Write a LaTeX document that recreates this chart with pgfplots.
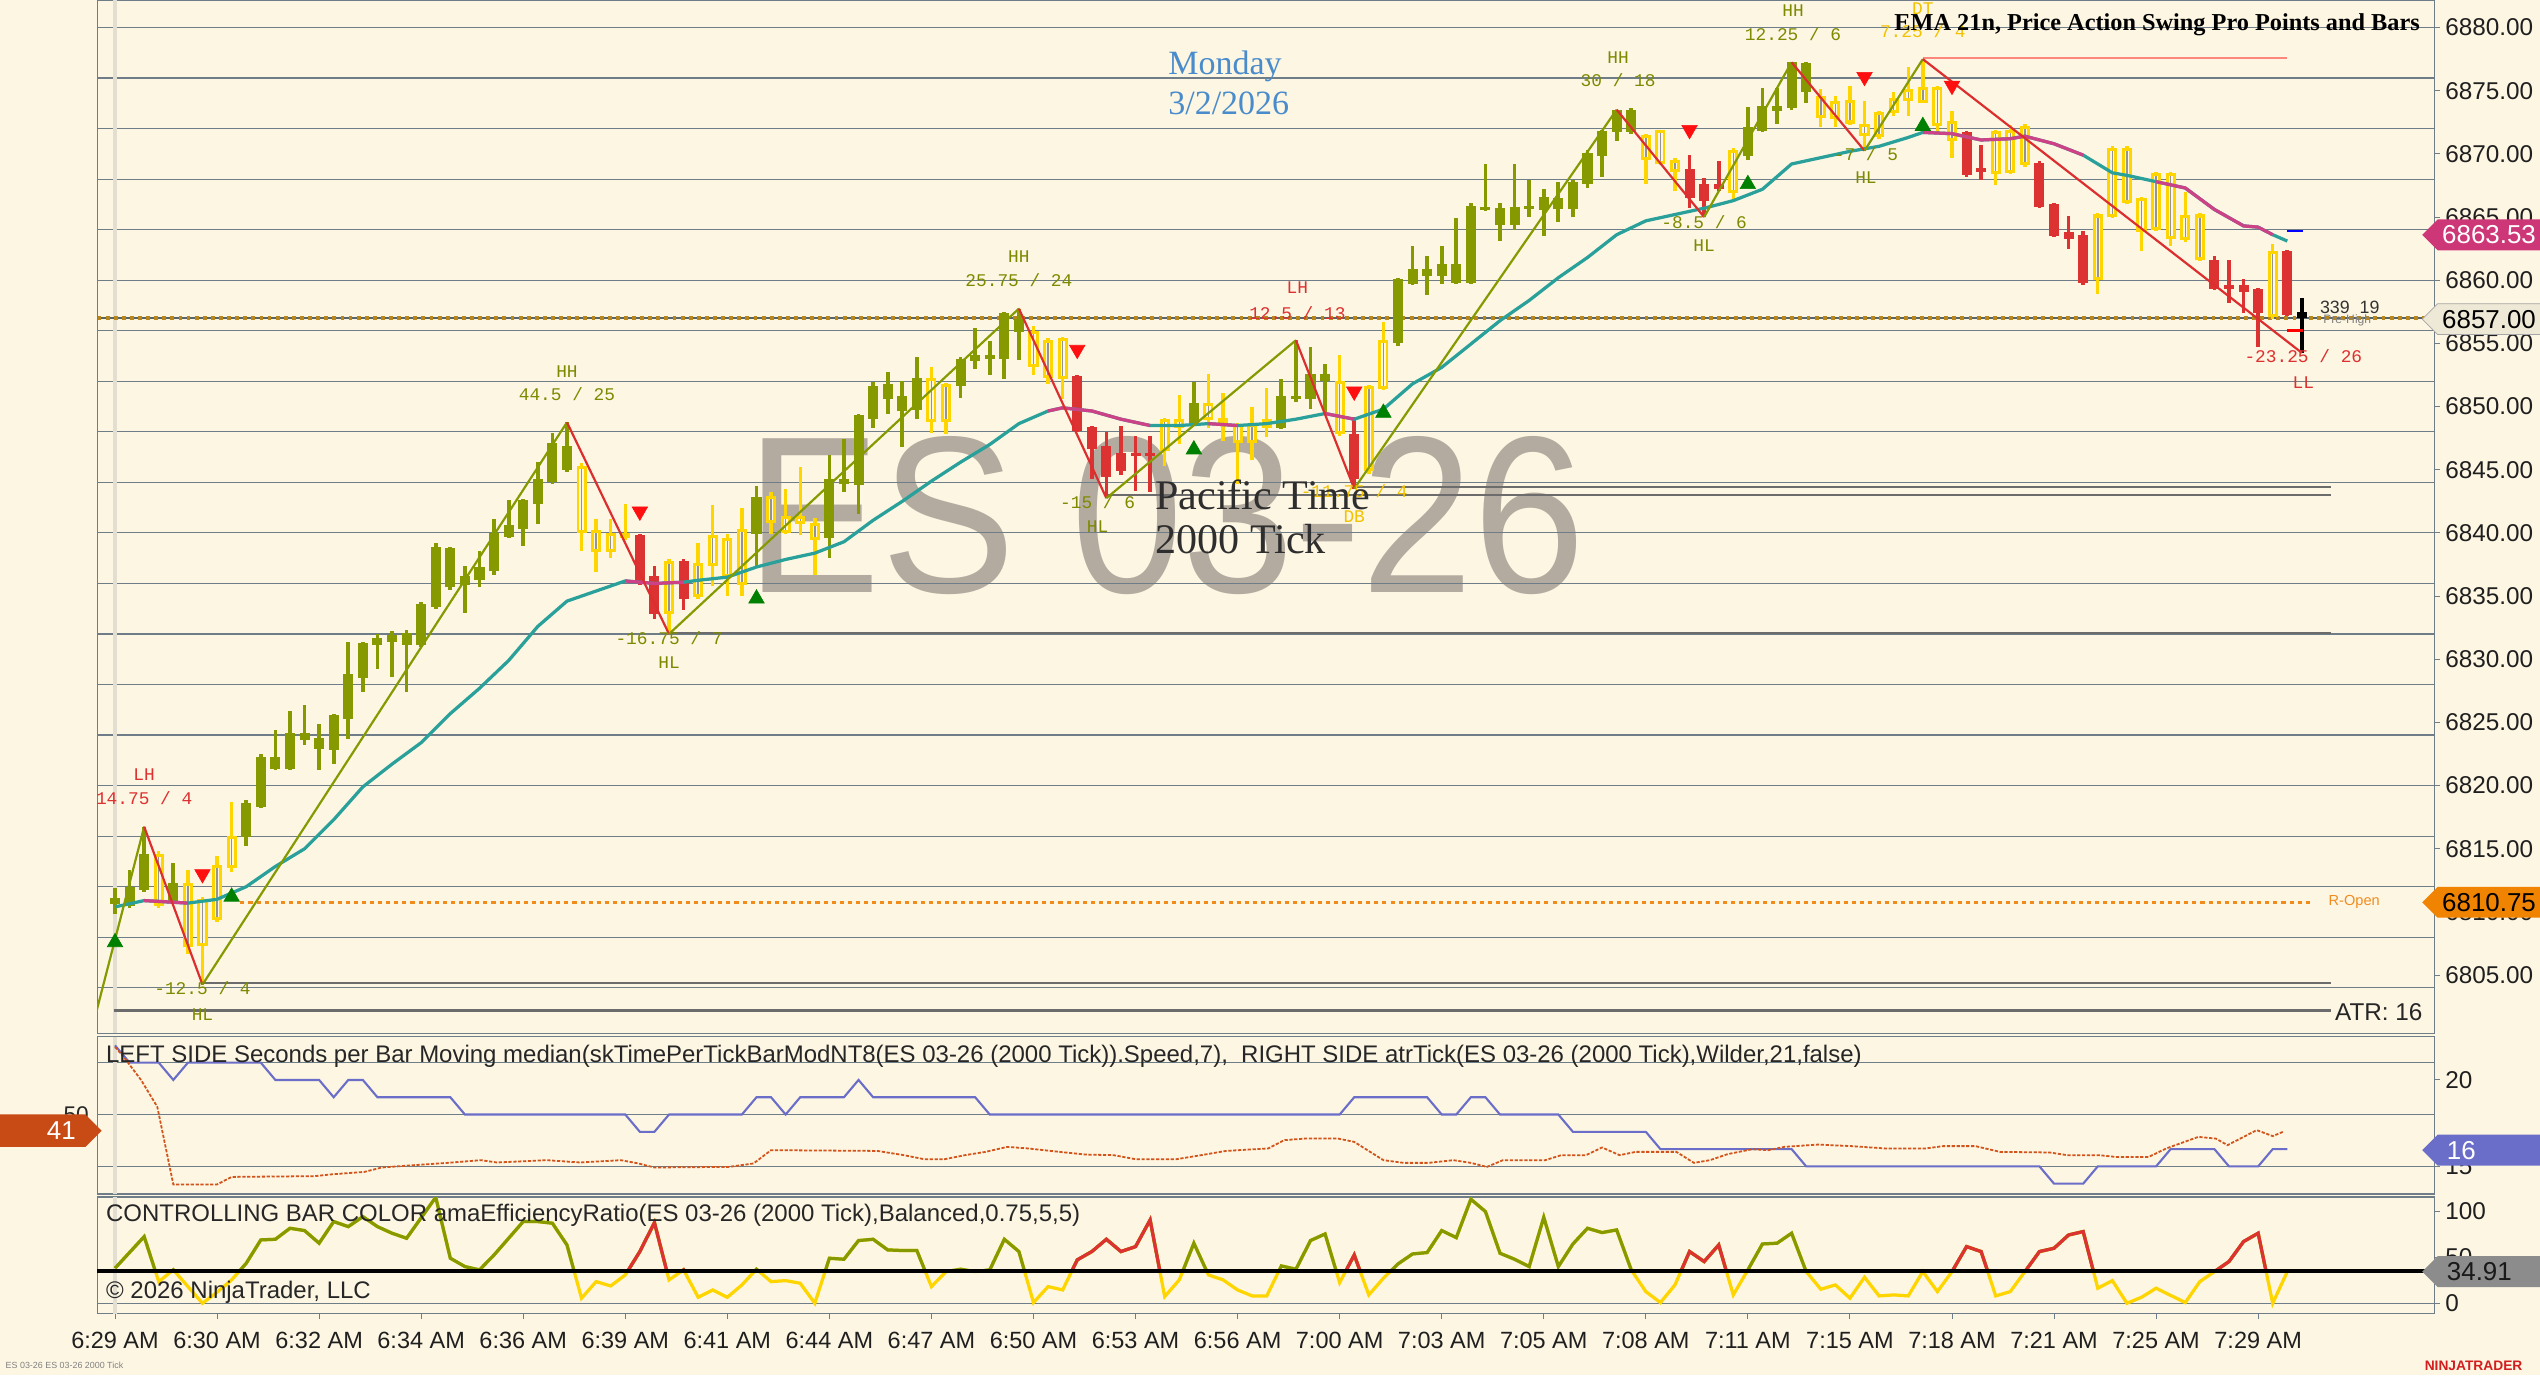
\documentclass[border=0pt]{standalone}
\usepackage{fontspec}
\setmainfont{Liberation Sans}
\newfontfamily\serifnt{Liberation Serif}
\newfontfamily\monont{Liberation Mono}
\usepackage{pgfplots}
\usepackage{pgfplotstable}
\pgfplotsset{compat=1.18}
\usetikzlibrary{shapes.symbols}

\definecolor{bg}{HTML}{FDF6E3}
\definecolor{gridc}{HTML}{6E7D87}
\definecolor{hlinec}{HTML}{6C6C6C}
\definecolor{upc}{HTML}{869A00}
\definecolor{yelc}{HTML}{FFD500}
\definecolor{dnc}{HTML}{DC3232}
\definecolor{emac}{HTML}{2AA09B}
\definecolor{magc}{HTML}{CD4187}
\definecolor{swup}{HTML}{849A00}
\definecolor{swdn}{HTML}{DC2E2E}
\definecolor{tolive}{HTML}{7D8A00}
\definecolor{tred}{HTML}{DD3030}
\definecolor{tgold}{HTML}{F2C200}
\definecolor{wmark}{HTML}{B3AB9F}
\definecolor{prehi}{HTML}{B98719}
\definecolor{ropen}{HTML}{F08C1E}
\definecolor{atrc}{HTML}{6B6EC8}
\definecolor{secc}{HTML}{D2541A}
\definecolor{trig}{HTML}{008000}
\definecolor{trir}{HTML}{FF1010}
\definecolor{bandc}{HTML}{E2DED2}

% OHLC per bar, split by bar colour
\pgfplotstableread{
i o h l c
0 6810.6 6811.9 6809.8 6811.1
1 6810.5 6813.3 6810.3 6812.0
2 6811.7 6816.75 6811.6 6814.6
4 6810.9 6813.9 6810.8 6812.3
9 6815.9 6818.9 6815.2 6818.6
10 6818.3 6822.5 6818.2 6822.3
11 6821.3 6824.4 6821.2 6822.3
12 6821.3 6825.9 6821.2 6824.2
13 6823.6 6826.4 6823.2 6824.2
14 6822.9 6824.9 6821.2 6823.8
15 6822.8 6825.7 6821.7 6825.6
16 6825.3 6831.4 6823.7 6828.8
17 6828.5 6831.4 6827.4 6831.3
18 6831.1 6832.0 6829.2 6831.7
19 6831.4 6832.2 6828.6 6831.9
20 6831.1 6832.3 6827.4 6832.1
21 6831.1 6834.5 6831.0 6834.4
22 6834.1 6839.2 6834.0 6838.9
23 6835.7 6838.9 6835.5 6838.8
24 6835.9 6837.4 6833.7 6836.6
25 6836.3 6838.6 6835.7 6837.3
26 6837.0 6841.1 6836.7 6840.0
27 6839.7 6842.6 6839.6 6840.6
28 6840.3 6842.7 6839.0 6842.6
29 6842.3 6845.6 6840.7 6844.3
30 6844.0 6847.9 6843.9 6847.1
31 6845.0 6848.75 6844.8 6846.9
44 6839.9 6843.7 6837.4 6842.85
49 6839.6 6846.2 6838.0 6844.3
50 6843.9 6847.4 6843.2 6844.3
51 6843.8 6849.4 6841.5 6849.3
52 6849.0 6851.95 6848.3 6851.6
53 6850.6 6852.7 6849.4 6851.8
54 6849.65 6852.0 6846.8 6850.8
55 6849.7 6853.9 6849.0 6852.3
58 6851.6 6853.9 6850.7 6853.8
59 6853.6 6856.2 6853.0 6854.1
60 6853.8 6855.2 6852.5 6854.1
61 6853.8 6857.5 6852.2 6857.4
62 6855.9 6857.75 6853.7 6856.9
74 6848.7 6851.95 6848.6 6850.3
80 6848.3 6852.2 6848.2 6850.8
81 6850.6 6855.25 6850.4 6850.8
82 6850.6 6854.7 6849.8 6852.6
83 6852.0 6853.4 6849.5 6852.6
88 6855.0 6860.2 6854.8 6860.1
89 6859.7 6862.7 6859.6 6860.9
90 6860.3 6861.9 6858.8 6860.9
91 6860.3 6862.7 6859.7 6861.3
92 6859.8 6864.9 6859.7 6861.3
93 6859.8 6866.1 6859.7 6865.9
94 6865.6 6869.2 6865.5 6865.8
95 6864.4 6866.1 6863.1 6865.7
96 6864.4 6869.2 6864.0 6865.8
97 6865.6 6867.9 6865.0 6865.9
98 6865.6 6867.2 6863.5 6866.6
99 6865.6 6867.8 6864.6 6866.5
100 6865.6 6867.9 6865.0 6867.8
101 6867.6 6870.3 6867.3 6870.1
102 6869.8 6871.9 6868.2 6871.8
103 6871.7 6873.5 6871.0 6873.5
104 6871.7 6873.6 6871.6 6873.5
112 6869.8 6873.7 6869.5 6872.1
113 6871.8 6875.2 6871.7 6873.8
114 6873.4 6875.2 6872.4 6873.8
115 6873.6 6877.25 6873.5 6877.25
116 6874.9 6877.3 6874.0 6877.2
}\upbars

\pgfplotstableread{
i o h l c
3 6814.6 6814.8 6810.3 6810.5
5 6812.3 6813.3 6806.7 6807.2
6 6807.3 6811.2 6804.25 6811.0
7 6809.4 6814.4 6809.2 6813.7
8 6813.5 6818.7 6813.2 6816.0
32 6845.3 6845.5 6838.6 6840.0
33 6840.2 6841.1 6836.9 6838.5
34 6838.5 6841.1 6838.0 6840.0
35 6839.6 6842.3 6839.4 6840.0
38 6833.6 6837.9 6832.0 6837.8
40 6834.9 6839.2 6834.75 6837.6
41 6837.4 6842.2 6835.8 6839.8
42 6839.6 6839.9 6835.0 6836.5
43 6835.9 6842.0 6835.0 6840.3
45 6842.9 6843.2 6839.9 6840.8
46 6841.3 6843.5 6839.9 6840.0
47 6841.3 6845.2 6839.8 6840.7
48 6840.8 6841.2 6836.7 6839.4
56 6852.3 6853.1 6847.9 6848.8
57 6848.8 6851.9 6847.8 6851.8
63 6856.0 6856.4 6852.5 6853.1
64 6855.3 6855.4 6851.8 6852.3
65 6852.2 6855.5 6850.6 6855.4
72 6846.5 6849.1 6845.3 6849.0
73 6848.3 6850.9 6847.0 6849.0
75 6848.9 6852.6 6848.3 6850.3
76 6849.1 6851.1 6847.3 6848.65
77 6848.65 6848.7 6843.85 6847.1
78 6847.1 6850.0 6845.75 6848.65
79 6848.3 6851.45 6847.6 6849.0
84 6852.0 6854.1 6847.7 6847.8
86 6844.9 6851.7 6844.7 6851.6
87 6851.4 6856.7 6851.3 6855.3
105 6871.5 6871.6 6867.6 6869.55
106 6871.9 6871.9 6869.1 6869.2
107 6869.55 6869.7 6867.1 6868.6
111 6866.9 6870.5 6866.3 6870.3
117 6874.6 6875.1 6872.1 6872.8
118 6874.2 6874.6 6872.1 6872.8
119 6872.4 6875.4 6872.3 6874.3
120 6872.4 6874.2 6870.25 6871.4
121 6871.3 6873.4 6871.2 6873.3
122 6873.2 6874.9 6873.0 6874.4
123 6874.2 6876.9 6873.0 6875.1
124 6874.0 6877.5 6874.0 6875.3
125 6875.3 6875.4 6871.6 6872.2
126 6872.6 6873.4 6869.7 6871.0
129 6868.4 6871.9 6867.5 6871.8
130 6871.9 6872.3 6868.4 6868.5
131 6869.1 6872.4 6869.0 6872.2
136 6860.0 6865.3 6858.9 6865.2
137 6865.0 6870.6 6864.9 6870.5
138 6870.5 6870.6 6866.0 6866.1
139 6866.5 6866.6 6862.3 6863.85
140 6864.0 6868.6 6863.9 6868.5
141 6868.5 6868.6 6862.7 6863.3
142 6863.2 6867.0 6863.0 6865.2
143 6865.2 6865.3 6861.5 6861.6
148 6857.1 6862.9 6856.9 6862.3
}\yelbars

\pgfplotstableread{
i o h l c
36 6839.8 6839.9 6835.9 6836.0
37 6836.6 6837.4 6833.2 6833.6
39 6837.8 6837.9 6833.9 6834.8
66 6852.4 6852.5 6848.0 6848.1
67 6848.4 6848.5 6844.25 6846.6
68 6846.9 6848.0 6842.75 6844.4
69 6846.3 6848.5 6844.6 6844.9
70 6846.3 6847.7 6843.3 6846.1
71 6846.3 6847.7 6843.2 6846.1
85 6847.8 6849.2 6843.5 6844.3
108 6868.8 6869.9 6865.7 6866.5
109 6867.6 6868.1 6865.0 6866.3
110 6867.6 6869.4 6867.1 6867.2
127 6871.7 6871.8 6868.2 6868.3
128 6868.9 6870.7 6867.9 6868.6
132 6869.3 6869.4 6865.7 6865.8
133 6866.0 6866.1 6863.4 6863.5
134 6863.8 6865.1 6862.5 6863.3
135 6863.6 6863.9 6859.6 6859.8
144 6861.6 6861.9 6859.2 6859.3
145 6859.6 6861.6 6858.2 6859.3
146 6859.6 6860.1 6857.4 6859.1
147 6859.3 6859.4 6854.75 6857.4
149 6862.3 6862.4 6857.2 6857.25
}\dnbars

\pgfplotstableread{
i o h l c
150 6857.5 6858.6 6854.25 6857.0
}\lastbar

\pgfplotstableread{
i v
0 6810.4
2 6810.9
5 6810.7
7 6811.0
9 6812.0
11 6813.6
13 6815.0
15 6817.3
17 6819.9
19 6821.7
21 6823.4
23 6825.7
25 6827.7
27 6829.9
29 6832.6
31 6834.6
33 6835.4
35 6836.2
37 6836.0
39 6836.1
40 6836.25
42 6836.5
44 6837.3
46 6837.9
48 6838.4
50 6839.3
52 6841.0
54 6842.5
56 6844.1
58 6845.6
60 6847.0
62 6848.65
64 6849.65
65 6849.9
67 6849.65
69 6849.0
71 6848.5
73 6848.5
75 6848.65
77 6848.5
79 6848.65
81 6849.0
83 6849.45
85 6849.0
87 6849.8
89 6851.8
91 6853.1
93 6854.95
95 6856.8
97 6858.4
99 6860.2
101 6861.8
103 6863.6
105 6864.7
107 6865.2
109 6865.7
111 6866.3
113 6867.2
115 6869.2
117 6869.7
119 6870.2
121 6870.6
123 6871.3
124 6871.7
126 6871.6
128 6871.1
130 6871.2
131 6871.4
133 6870.8
135 6869.9
137 6868.5
138 6868.3
140 6867.8
142 6867.3
144 6865.6
146 6864.3
147 6864.2
148 6863.6
149 6863.1
}\ema

\pgfplotstableread{
i v
0 38.2
2 72.7
3 23.6
4 36.4
6 0
7 12
8 25.5
9 43.6
10 69.1
11 69.8
12 81.8
13 79.3
14 65.5
15 89.1
16 83.6
17 94.5
18 83.6
19 76.4
20 70.9
22 115.6
23 49.1
24 40
25 36.4
26 52.7
28 89.1
29 89.1
30 87.3
31 63.6
32 5.5
33 23.6
34 18.9
35 30.9
36 56.4
37 88
38 25.5
39 36.4
40 6.5
41 14.5
42 6.5
43 20
44 37.1
45 23.6
46 24.7
47 21.8
48 0
49 49.1
50 48
51 68.4
52 69.8
53 58.2
54 57.5
55 57.5
56 18.2
57 34.5
58 37.1
59 34.5
60 36.4
61 69.8
62 56.4
63 0.7
64 18.2
65 14.5
66 47.3
67 56.4
68 69.8
69 56.4
70 61.8
71 90.9
72 7.3
73 25.5
74 65.5
75 30.9
76 25.5
77 14.5
78 8
79 8
80 40.7
81 37.1
82 68.4
83 75.6
84 22.5
85 52.7
86 9.1
87 27.3
88 42.9
89 53.8
90 55.3
91 79.3
92 71.6
93 113.5
94 100
95 54.5
96 48
97 40
98 93.8
99 40
100 64.7
101 81.8
102 77.1
103 80
104 36.4
105 12.7
106 0.7
107 20
108 56.4
109 45.5
110 63.6
111 9.1
112 36.4
113 64.7
114 65.5
115 76.4
116 34.5
117 15.3
118 20
119 5.5
120 28.4
121 8
122 9.1
123 8
124 34.5
125 12.7
126 34.5
127 61.8
128 56.4
129 8
130 12.7
131 34.5
132 56.4
133 60
134 74.5
135 78.2
136 16.4
137 24.7
138 0
139 6.5
140 16.4
142 0.7
143 23.6
144 34.5
145 45.5
146 67.3
147 76.4
148 0
149 34.5
}\effratio

\newcommand\wicks[3]{\addplot[draw=none, mark=none, error bars/.cd, y dir=both, y explicit, error mark=none, error bar style={line width=#3, draw=#2}] table[x=i, y expr={0.5*(\thisrow{h}+\thisrow{l})}, y error expr={0.5*(\thisrow{h}-\thisrow{l})}] {#1};}
\newcommand\bodies[5]{\addplot[draw=none, mark=none, error bars/.cd, y dir=both, y explicit, error mark=none, error bar style={line width=#3, draw=#2}] table[x=i, y expr={0.5*(\thisrow{o}+\thisrow{c})}, y error expr={max(0.5*abs(\thisrow{o}-\thisrow{c})-#4,#5)}] {#1};}

\pgfplotsset{
  panel/.style={scale only axis, width=1443pt, xmin=-1.222, xmax=159.11,
    axis line style={draw=gridc, line width=0.8pt}, scaled y ticks=false,
    ytick pos=right, yticklabel pos=right, tick align=outside,
    major tick length=3pt, minor tick length=0pt,
    tick style={draw=gridc, line width=0.6pt},
    yticklabel style={font=\fontsize{15}{15}\selectfont, text=black!88,
      /pgf/number format/assume math mode=true},
    minor grid style={draw=gridc, line width=0.7pt}},
}

\begin{document}
\begin{tikzpicture}[x=1pt,y=1pt]
\useasboundingbox (0,0) rectangle (1568,849);
\fill[bg] (0,0) rectangle (1568,849);
\node[inner sep=0, text=wmark, xscale=0.9, font=\fontsize{138}{138}\selectfont] at (720,531) {ES 03-26};

% ---------------- price panel ----------------
\begin{axis}[panel, at={(60pt,211pt)}, anchor=south west, height=638pt,
  ymin=6800.38, ymax=6882.18, xtick=\empty,
  ytick={6805,6810,...,6880}, minor ytick={6804,6808,...,6880}, yminorgrids,
  yticklabel style={/pgf/number format/.cd, fixed, fixed zerofill, precision=2, 1000 sep={}}]
\addplot[bandc, line width=3pt] coordinates {(0,6800.38) (0,6882.18)};
% levels
\addplot[gridc!80!black, line width=1pt] coordinates {(-1.2,6857) (159.1,6857)};
\addplot[prehi, line width=2.4pt, dash pattern=on 2.4pt off 2.6pt] coordinates {(-1.2,6857) (159.1,6857)};
\addplot[ropen, line width=2pt, dash pattern=on 2.5pt off 2.5pt] coordinates {(8.6,6810.75) (150.8,6810.75)};
\addplot[hlinec, line width=1.3pt] coordinates {(-0.1,6802.2) (152,6802.2)};
\addplot[hlinec, line width=1.3pt] coordinates {(6,6804.4) (152,6804.4)};
\addplot[hlinec, line width=1.3pt] coordinates {(38,6832.1) (152,6832.1)};
\addplot[hlinec, line width=1.3pt] coordinates {(68,6843.0) (152,6843.0)};
\addplot[hlinec, line width=1.3pt] coordinates {(85,6843.6) (152,6843.6)};
\addplot[red!45!bg, line width=1.2pt] coordinates {(124,6877.6) (149,6877.6)};
% candles
\wicks{\upbars}{upc}{2.3pt}
\bodies{\upbars}{upc}{6.2pt}{0}{0.13}
\wicks{\dnbars}{dnc}{2.3pt}
\bodies{\dnbars}{dnc}{6.2pt}{0}{0.13}
\wicks{\yelbars}{yelc}{2.1pt}
\bodies{\yelbars}{yelc}{6.2pt}{0}{0.13}
\bodies{\yelbars}{bg}{2.6pt}{0.24}{0}
\bodies{\yelbars}{gray!85}{0.9pt}{0.24}{0}
\wicks{\lastbar}{black}{2.2pt}
\bodies{\lastbar}{black}{6.2pt}{0}{0.13}
% EMA 21
\addplot[emac, line width=2pt] table[x=i, y=v] {\ema};
\addplot[magc, line width=2pt, restrict x to domain=2:5] table[x=i, y=v] {\ema};
\addplot[magc, line width=2pt, restrict x to domain=35:39] table[x=i, y=v] {\ema};
\addplot[magc, line width=2pt, restrict x to domain=64:71] table[x=i, y=v] {\ema};
\addplot[magc, line width=2pt, restrict x to domain=75:77] table[x=i, y=v] {\ema};
\addplot[magc, line width=2pt, restrict x to domain=83:85] table[x=i, y=v] {\ema};
\addplot[magc, line width=2pt, restrict x to domain=124:135] table[x=i, y=v] {\ema};
\addplot[magc, line width=2pt, restrict x to domain=140:148] table[x=i, y=v] {\ema};
% swings
\addplot[swup, line width=1.35pt] coordinates {(-1.3,6802.0) (2,6816.75)};
\addplot[swdn, line width=1.35pt] coordinates {(2,6816.75) (6,6804.25)};
\addplot[swup, line width=1.35pt] coordinates {(6,6804.25) (31,6848.75)};
\addplot[swdn, line width=1.35pt] coordinates {(31,6848.75) (38,6832.0)};
\addplot[swup, line width=1.35pt] coordinates {(38,6832.0) (62,6857.75)};
\addplot[swdn, line width=1.35pt] coordinates {(62,6857.75) (68,6842.75)};
\addplot[swup, line width=1.35pt] coordinates {(68,6842.75) (81,6855.25)};
\addplot[swdn, line width=1.35pt] coordinates {(81,6855.25) (85,6843.5)};
\addplot[swup, line width=1.35pt] coordinates {(85,6843.5) (103,6873.5)};
\addplot[swdn, line width=1.35pt] coordinates {(103,6873.5) (109,6865.0)};
\addplot[swup, line width=1.35pt] coordinates {(109,6865.0) (115,6877.25)};
\addplot[swdn, line width=1.35pt] coordinates {(115,6877.25) (120,6870.25)};
\addplot[swup, line width=1.35pt] coordinates {(120,6870.25) (124,6877.5)};
\addplot[swdn, line width=1.35pt] coordinates {(124,6877.5) (150,6854.25)};
\addplot[blue, line width=1.6pt] coordinates {(149,6863.9) (150.1,6863.9)};
\addplot[red, line width=1.6pt] coordinates {(149,6856.0) (150.1,6856.0)};
% signal triangles
\addplot[only marks, mark=triangle*, mark size=5.5pt, color=trig] coordinates {(0,6807.6) (8,6811.2) (44,6834.8) (74,6846.6) (87,6849.5) (112,6867.6) (124,6872.2)};
\addplot[only marks, mark=triangle*, mark size=5.5pt, color=trir, mark options={rotate=180}] coordinates {(6,6813.0) (36,6841.7) (66,6854.5) (85,6851.2) (108,6871.9) (120,6876.1) (126,6875.4)};
% swing labels
\begin{scope}[every node/.style={font=\monont\fontsize{11}{11}\selectfont, inner sep=0}]
\node[text=tred] at (axis cs:2,6820.9) {LH};
\node[text=tred] at (axis cs:2,6818.97) {14.75 / 4};
\node[text=tolive] at (axis cs:6,6804.0) {-12.5 / 4};
\node[text=tolive] at (axis cs:6,6801.9) {HL};
\node[text=tolive] at (axis cs:31,6852.8) {HH};
\node[text=tolive] at (axis cs:31,6851.0) {44.5 / 25};
\node[text=tolive] at (axis cs:38,6831.7) {-16.75 / 7};
\node[text=tolive] at (axis cs:38,6829.7) {HL};
\node[text=tolive] at (axis cs:62,6861.9) {HH};
\node[text=tolive] at (axis cs:62,6860.0) {25.75 / 24};
\node[text=tred] at (axis cs:81.1,6859.4) {LH};
\node[text=tred] at (axis cs:81.1,6857.4) {12.5 / 13};
\node[text=tolive] at (axis cs:67.4,6842.4) {-15 / 6};
\node[text=tolive] at (axis cs:67.4,6840.5) {HL};
\node[text=tgold] at (axis cs:85,6843.3) {-11.75 / 4};
\node[text=tgold] at (axis cs:85,6841.3) {DB};
\node[text=tolive] at (axis cs:103.1,6877.6) {HH};
\node[text=tolive] at (axis cs:103.1,6875.8) {30 / 18};
\node[text=tolive] at (axis cs:109,6864.6) {-8.5 / 6};
\node[text=tolive] at (axis cs:109,6862.7) {HL};
\node[text=tolive] at (axis cs:115.1,6881.3) {HH};
\node[text=tolive] at (axis cs:115.1,6879.5) {12.25 / 6};
\node[text=tolive] at (axis cs:120.1,6870.0) {-7 / 5};
\node[text=tolive] at (axis cs:120.1,6868.1) {HL};
\node[text=tgold] at (axis cs:124,6881.5) {DT};
\node[text=tgold] at (axis cs:124,6879.7) {7.25 / 4};
\node[text=tred] at (axis cs:150.1,6854.0) {-23.25 / 26};
\node[text=tred] at (axis cs:150.1,6851.9) {LL};
\end{scope}
\end{axis}

% ---------------- seconds per bar / ATR panel ----------------
\begin{axis}[panel, at={(60pt,112pt)}, anchor=south west, height=97pt,
  ymin=13.41, ymax=22.5, xtick=\empty, ytick={15,20},
  minor ytick={15,18,21}, yminorgrids]
\addplot[bandc, line width=3pt] coordinates {(0,13.41) (0,22.5)};
\addplot[atrc, line width=1.3pt] coordinates {(0,22)(1,21)(3,21)(4,20)(5,21)(10,21)(11,20)(14,20)(15,19)(16,20)(17,20)(18,19)(23,19)(24,18)(35,18)(36,17)(37,17)(38,18)(43,18)(44,19)(45,19)(46,18)(47,19)(50,19)(51,20)(52,19)(59,19)(60,18)(84,18)(85,19)(90,19)(91,18)(92,18)(93,19)(94,19)(95,18)(99,18)(100,17)(105,17)(106,16)(115,16)(116,15)(132,15)(133,14)(135,14)(136,15)(140,15)(141,16)(144,16)(145,15)(147,15)(148,16)(149,16)};
\end{axis}
\begin{axis}[scale only axis, width=1443pt, height=97pt, at={(60pt,112pt)}, anchor=south west,
  xmin=-1.222, xmax=159.11, ymin=8.8, ymax=90.4, hide axis]
\addplot[secc, line width=1.1pt, dash pattern=on 2pt off 1pt] coordinates {(0,85.1)(0.6,79.9)(1.8,67.8)(2.9,54.0)(4,13.7)(7,13.7)(8,17.6)(13.7,18.0)(14.8,18.9)(17.1,20.2)(18.3,22.5)(20.5,23.7)(22.8,24.9)(25.1,26.3)(26.2,25.1)(29.6,26.3)(31.9,25.1)(34.7,26.3)(35.9,24.6)(37,22.5)(42.1,22.8)(43.8,24.6)(45,31.5)(52.3,31.1)(54.1,28.9)(55.5,26.8)(56.9,26.8)(58.3,28.9)(59.7,30.6)(61.2,33.2)(62.6,32.4)(64.8,30.6)(66.6,29.2)(68.5,28.9)(70,26.8)(72.8,26.8)(74.5,28.9)(76.2,31.1)(79.1,32.4)(80.2,36.7)(81.6,37.5)(83.9,37.5)(85,35.8)(87,26.3)(88.4,24.9)(90.1,24.9)(91.8,26.3)(93,24.9)(94.1,22.8)(95.2,26.3)(98.1,26.3)(99.2,28.9)(100.9,28.9)(102,32.9)(103.2,28.9)(104.3,30.6)(107.1,30.6)(108.3,24.9)(109.4,26.3)(110.6,29.4)(112.3,32.0)(113.4,31.5)(114.5,33.2)(116.8,34.4)(119.1,33.6)(121.4,32.4)(124.2,32.4)(125.4,33.6)(127.6,33.6)(129.3,30.6)(132.7,30.3)(133.9,28.9)(136.1,28.9)(137.2,28.0)(139.5,28.0)(140.7,32.4)(142.9,38.4)(144.1,37.5)(144.9,34.1)(146.9,41.9)(148,38.8)(148.7,41)};
\end{axis}

% ---------------- efficiency ratio panel ----------------
\begin{axis}[panel, at={(60pt,38pt)}, anchor=south west, height=72pt,
  ymin=-11.45, ymax=115.8, ytick={0,50,100}, minor ytick={0}, yminorgrids,
  xtick={0,7,...,147}, xtick pos=bottom,
  xticklabels={6:29 AM,6:30 AM,6:32 AM,6:34 AM,6:36 AM,6:39 AM,6:41 AM,6:44 AM,6:47 AM,6:50 AM,6:53 AM,6:56 AM,7:00 AM,7:03 AM,7:05 AM,7:08 AM,7:11 AM,7:15 AM,7:18 AM,7:21 AM,7:25 AM,7:29 AM},
  xticklabel style={font=\fontsize{14.5}{14.5}\selectfont, text=black!88, yshift=-5pt}]
\addplot[bandc, line width=3pt] coordinates {(0,-11.45) (0,115.8)};
\addplot[yelc, line width=2pt] table[x=i, y=v] {\effratio};
\end{axis}
\begin{axis}[scale only axis, width=1443pt, height=45.77pt, at={(60pt,64.23pt)}, anchor=south west,
  xmin=-1.222, xmax=159.11, ymin=34.91, ymax=115.8, hide axis]
\addplot[upc, line width=2pt] table[x=i, y=v] {\effratio};
\addplot[dnc, line width=2pt, restrict x to domain=35:40] table[x=i, y=v] {\effratio};
\addplot[dnc, line width=2pt, restrict x to domain=65:72] table[x=i, y=v] {\effratio};
\addplot[dnc, line width=2pt, restrict x to domain=84:86] table[x=i, y=v] {\effratio};
\addplot[dnc, line width=2pt, restrict x to domain=107:111] table[x=i, y=v] {\effratio};
\addplot[dnc, line width=2pt, restrict x to domain=126:129] table[x=i, y=v] {\effratio};
\addplot[dnc, line width=2pt, restrict x to domain=131:136] table[x=i, y=v] {\effratio};
\addplot[dnc, line width=2pt, restrict x to domain=144:148] table[x=i, y=v] {\effratio};
\end{axis}
\begin{axis}[scale only axis, width=1443pt, height=72pt, at={(60pt,38pt)}, anchor=south west,
  xmin=-1.222, xmax=159.11, ymin=-11.45, ymax=115.8, hide axis, clip=false]
\addplot[black, line width=2.6pt] coordinates {(-1.222,34.91) (159.11,34.91)};
\end{axis}

% ---------------- texts and price boxes ----------------
\node[anchor=west, text=black!85, font=\fontsize{14.8}{14.8}\selectfont] at (62,197) {LEFT SIDE Seconds per Bar Moving median(skTimePerTickBarModNT8(ES 03-26 (2000 Tick)).Speed,7),\ \ RIGHT SIDE atrTick(ES 03-26 (2000 Tick),Wilder,21,false)};
\node[anchor=west, text=black!85, font=\fontsize{14.8}{14.8}\selectfont] at (62,99) {CONTROLLING BAR COLOR amaEfficiencyRatio(ES 03-26 (2000 Tick),Balanced,0.75,5,5)};
\node[anchor=west, text=black!85, font=\fontsize{14.8}{14.8}\selectfont] at (62,51) {\textcopyright{} 2026 NinjaTrader, LLC};

\node[anchor=west, text=black!85, font=\fontsize{15}{15}\selectfont] at (1438,224) {ATR: 16};
\node[anchor=west, text=ropen, font=\fontsize{9}{9}\selectfont] at (1434,292) {R-Open};
\node[anchor=west, text=black!80, font=\fontsize{11}{11}\selectfont, inner sep=0] at (1432,659) {339\ \ 19};
\node[anchor=west, text=gray, font=\fontsize{7.5}{7.5}\selectfont, inner sep=0] at (1434,651) {Pre-High};

\node[anchor=north west, inner sep=0, font=\serifnt\fontsize{21}{21}\selectfont, text={rgb,255:red,74;green,140;blue,203}, align=left] at (721,818) {Monday\\[4pt]3/2/2026};
\node[anchor=north west, inner sep=0, font=\serifnt\fontsize{26}{26}\selectfont, text=black!82, align=left] at (713,553) {Pacific Time\\[1pt]2000 Tick};
\node[anchor=east, inner sep=0, font=\serifnt\bfseries\fontsize{15}{15}\selectfont] at (1494,834) {EMA 21n, Price Action Swing Pro Points and Bars};

\begin{scope}[every node/.style={signal, signal to=west, anchor=west, minimum height=19pt, minimum width=73pt, inner sep=2pt, font=\fontsize{16}{16}\selectfont}]
\node[fill={rgb,255:red,205;green,55;blue,120}, text=white] at (1495,704) {6863.53};
\node[fill={rgb,255:red,238;green,232;blue,214}, draw=gray!70, text=black] at (1495,652) {6857.00};
\node[fill={rgb,255:red,240;green,132;blue,0}, text=black] at (1495,292) {6810.75};
\node[fill=atrc, text=white] at (1495,139) {\makebox[52pt][l]{16}};
\node[fill={rgb,255:red,140;green,140;blue,140}, text=black!90] at (1495,64) {\makebox[52pt][l]{34.91}};
\end{scope}
\node[text=black!85, font=\fontsize{14}{14}\selectfont] at (47,161) {50};
\node[signal, signal to=east, anchor=east, minimum height=20pt, minimum width=62pt, inner sep=2pt, fill={rgb,255:red,200;green,75;blue,22}, text=white, font=\fontsize{16}{16}\selectfont] at (63,151) {\makebox[46pt][r]{41}\hspace*{4pt}};

\node[anchor=west, text=gray, font=\fontsize{5.5}{5.5}\selectfont] at (0,6) {ES 03-26 ES 03-26 2000 Tick};
\node[text={rgb,255:red,210;green,30;blue,30}, font=\bfseries\fontsize{8.5}{8.5}\selectfont] at (1527,6) {NINJATRADER};
\end{tikzpicture}
\end{document}
